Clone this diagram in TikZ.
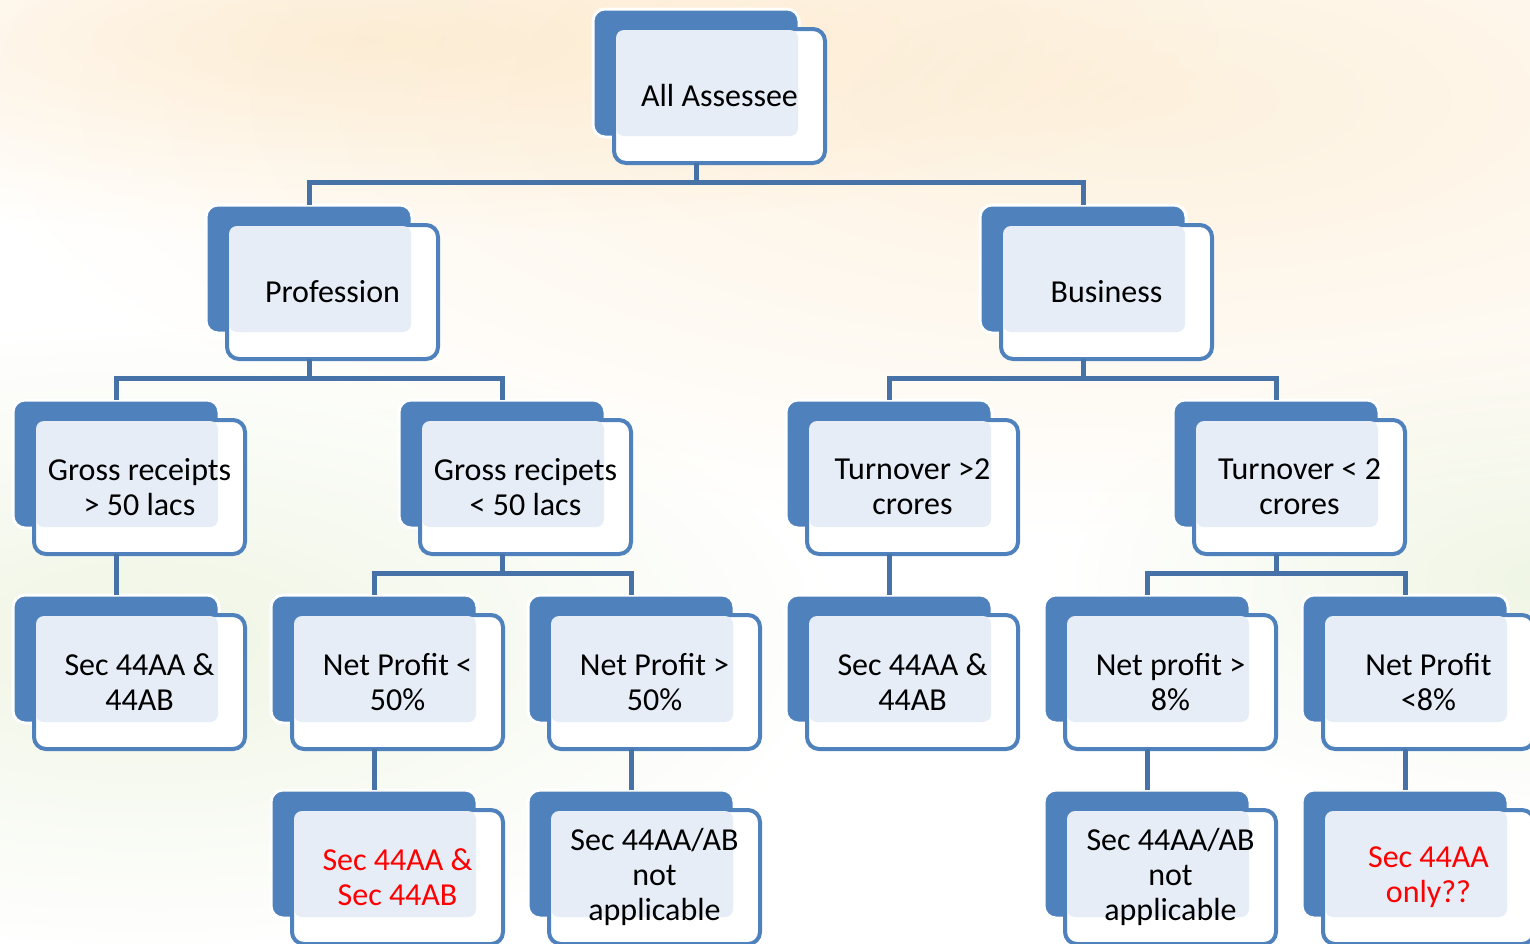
\documentclass[tikz,border=0pt]{standalone}
\usepackage{fontspec}
\setmainfont{Carlito}
\definecolor{boxblue}{HTML}{4F81BD}
\definecolor{connblue}{HTML}{4672A8}
\definecolor{overlap}{HTML}{E6EDF7}
\definecolor{cream}{HTML}{FDF1DE}
\definecolor{paleg}{HTML}{EFF5E4}
\tikzset{
  backbox/.style={rectangle, rounded corners=6pt, fill=boxblue, draw=white, line width=1.5pt,
    minimum width=103pt, minimum height=64pt, inner sep=0pt, outer sep=0pt},
  frontbox/.style={rectangle, rounded corners=6pt, fill=white, draw=boxblue, line width=2pt,
    minimum width=105.5pt, minimum height=67pt, inner sep=0pt, outer sep=0pt},
  ovl/.style={fill=overlap, rounded corners=4pt},
  txt/.style={align=center, font=\fontsize{16pt}{17.5pt}\selectfont, inner sep=0pt},
  redtxt/.style={txt, text=red},
  conn/.style={draw=connblue, line width=2.5pt}
}
\newcommand\tbox[5][txt]{%
  \node[backbox] (#2-b) at (#3+103,#4+64) {};
  \node[frontbox] (#2-f) at (#3+126.5,#4+87) {};
  \fill[ovl] (#3+23,#4+21) rectangle (#3+205,#4+127);
  \node[#1] (#2) at (#2-f.center) {#5};
}
\begin{document}
\begin{tikzpicture}[x=0.5pt,y=-0.5pt]
\useasboundingbox (0,0) rectangle (1530,943);
\clip (0,0) rectangle (1530,943);
\fill[white] (0,0) rectangle (1530,943);
% background wash
\begin{scope}[blend mode=multiply]
\shade[inner color=cream, outer color=white] (1150,100) ellipse (1200 and 440);
\shade[inner color=cream, outer color=white] (350,40) ellipse (900 and 200);
\shade[inner color=paleg, outer color=white] (150,640) ellipse (700 and 320);
\shade[inner color=paleg, outer color=white] (1550,580) ellipse (500 and 240);
\end{scope}

% boxes
\tbox{root}{593}{9}{All Assessee}
\tbox{prof}{206}{205}{Profession}
\tbox{bus}{980}{205}{Business}
\tbox{g1}{13}{400}{Gross receipts\\> 50 lacs}
\tbox{g2}{399}{400}{Gross recipets\\< 50 lacs}
\tbox{t1}{786}{400}{Turnover >2\\crores}
\tbox{t2}{1173}{400}{Turnover < 2\\crores}
\tbox{s1}{13}{595}{Sec 44AA \&\\44AB}
\tbox{n1}{271}{595}{Net Profit <\\50\%}
\tbox{n2}{528}{595}{Net Profit >\\50\%}
\tbox{s2}{786}{595}{Sec 44AA \&\\44AB}
\tbox{n3}{1044}{595}{Net profit >\\8\%}
\tbox{n4}{1302}{595}{Net Profit\\<8\%}
\tbox[redtxt]{r1}{271}{790}{Sec 44AA \&\\Sec 44AB}
\tbox{r2}{528}{790}{Sec 44AA/AB\\not\\applicable}
\tbox{r3}{1044}{790}{Sec 44AA/AB\\not\\applicable}
\tbox[redtxt]{r4}{1302}{790}{Sec 44AA\\only??}

% connectors
\draw[conn] (root-b.center |- root-f.south) -- ++(0,19) -| (prof-b.north);
\draw[conn] (root-b.center |- root-f.south) -- ++(0,19) -| (bus-b.north);
\draw[conn] (prof-b.center |- prof-f.south) -- ++(0,19) -| (g1-b.north);
\draw[conn] (prof-b.center |- prof-f.south) -- ++(0,19) -| (g2-b.north);
\draw[conn] (bus-b.center |- bus-f.south) -- ++(0,19) -| (t1-b.north);
\draw[conn] (bus-b.center |- bus-f.south) -- ++(0,19) -| (t2-b.north);
\draw[conn] (g1-b.center |- g1-f.south) -- (s1-b.north);
\draw[conn] (g2-b.center |- g2-f.south) -- ++(0,19) -| (n1-b.north);
\draw[conn] (g2-b.center |- g2-f.south) -- ++(0,19) -| (n2-b.north);
\draw[conn] (t1-b.center |- t1-f.south) -- (s2-b.north);
\draw[conn] (t2-b.center |- t2-f.south) -- ++(0,19) -| (n3-b.north);
\draw[conn] (t2-b.center |- t2-f.south) -- ++(0,19) -| (n4-b.north);
\draw[conn] (n1-b.center |- n1-f.south) -- (r1-b.north);
\draw[conn] (n2-b.center |- n2-f.south) -- (r2-b.north);
\draw[conn] (n3-b.center |- n3-f.south) -- (r3-b.north);
\draw[conn] (n4-b.center |- n4-f.south) -- (r4-b.north);
\end{tikzpicture}
\end{document}
